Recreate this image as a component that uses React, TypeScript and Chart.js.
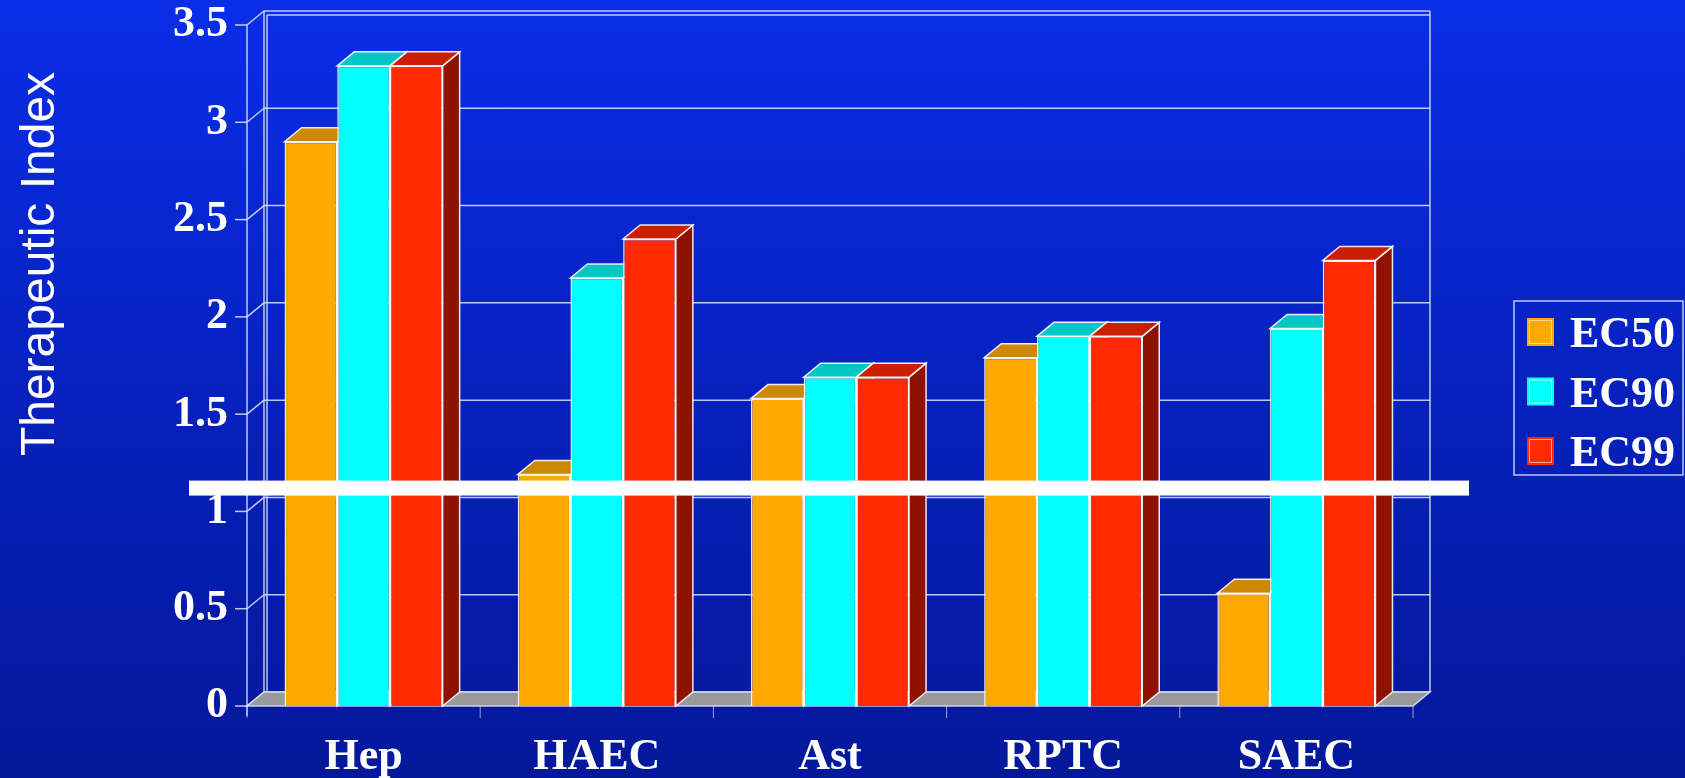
import React, { useEffect, useRef } from "react";
import { Chart, registerables } from "chart.js";

Chart.register(...registerables);

// Cell lines on the category axis
const cellLines = ["Hep", "HAEC", "Ast", "RPTC", "SAEC"];
// Series names
const seriesNames = ["EC50", "EC90", "EC99"];
// Therapeutic index per cell line
const ec50Values = [2.9, 1.19, 1.58, 1.79, 0.58];
const ec90Values = [3.29, 2.2, 1.69, 1.9, 1.94];
const ec99Values = [3.29, 2.4, 1.69, 1.9, 2.29];
// Value axis ticks
const yTickValues = [0, 0.5, 1, 1.5, 2, 2.5, 3, 3.5];
// Threshold band drawn across the chart
const thresholdValue = 1.12;

const frontColors = ["#FFA800", "#00FFFF", "#FF2A00"];
const topColors = ["#CC8800", "#00C6C6", "#CC1E00"];
const sideColors = ["#996600", "#009494", "#8E1200"];

const SERIF = '"Times New Roman", "Liberation Serif", serif';
const SANS = 'Arial, "Liberation Sans", sans-serif';
const DX = 17;
const DY = 14;
const LINE = "rgba(225,230,255,0.85)";

function line(ctx: CanvasRenderingContext2D, x1: number, y1: number, x2: number, y2: number) {
  ctx.beginPath();
  ctx.moveTo(x1, y1);
  ctx.lineTo(x2, y2);
  ctx.stroke();
}

function quad(ctx: CanvasRenderingContext2D, pts: number[][], fill: string) {
  ctx.beginPath();
  ctx.moveTo(pts[0][0], pts[0][1]);
  for (let i = 1; i < pts.length; i++) ctx.lineTo(pts[i][0], pts[i][1]);
  ctx.closePath();
  ctx.fillStyle = fill;
  ctx.fill();
  ctx.stroke();
}

const depthPlugin = {
  id: "depth3d",
  beforeDatasetsDraw(chart: any) {
    const { ctx, chartArea } = chart;
    const { left, right } = chartArea;
    const y = chart.scales.y;
    const y0 = y.getPixelForValue(0);
    const yTop = y.getPixelForValue(yTickValues[yTickValues.length - 1]);
    ctx.save();
    ctx.lineWidth = 1.5;
    ctx.strokeStyle = LINE;

    // back wall and left wall grid
    yTickValues.forEach((v) => {
      const py = y.getPixelForValue(v);
      line(ctx, left + DX, py - DY, right + DX, py - DY);
      line(ctx, left, py, left + DX, py - DY);
      line(ctx, left - 12, py, left, py);
    });
    line(ctx, left + DX + 3, yTop - DY + 4, right + DX, yTop - DY + 4);
    line(ctx, left + DX, yTop - DY, left + DX, y0 - DY);
    line(ctx, left + DX + 3, yTop - DY + 4, left + DX + 3, y0 - DY);
    line(ctx, right + DX, yTop - DY, right + DX, y0 - DY);

    // floor
    quad(ctx, [[left, y0], [right, y0], [right + DX, y0 - DY], [left + DX, y0 - DY]], "#9A9A9A");
    line(ctx, left, yTop, left, y0 + 10);

    // category boundary ticks
    ctx.strokeStyle = "rgba(190,195,220,0.8)";
    ctx.lineWidth = 1;
    const n = cellLines.length;
    for (let i = 0; i <= n; i++) {
      const bx = left + ((right - left) * i) / n;
      line(ctx, bx, y0, bx, y0 + 12);
    }

    // top and side faces of the bars
    ctx.strokeStyle = "rgba(255,255,255,0.9)";
    ctx.lineWidth = 1.5;
    for (let c = 0; c < n; c++) {
      chart.data.datasets.forEach((_: any, d: number) => {
        const bar = chart.getDatasetMeta(d).data[c];
        const { x, y: top, width, base } = bar.getProps(["x", "y", "width", "base"], true);
        const xl = x - width / 2;
        const xr = x + width / 2;
        quad(ctx, [[xr, top], [xr + DX, top - DY], [xr + DX, base - DY], [xr, base]], sideColors[d]);
        quad(ctx, [[xl, top], [xr, top], [xr + DX, top - DY], [xl + DX, top - DY]], topColors[d]);
      });
    }
    ctx.restore();
  },
  afterDatasetsDraw(chart: any) {
    const { ctx, chartArea } = chart;
    const yT = chart.scales.y.getPixelForValue(thresholdValue);
    ctx.save();
    ctx.fillStyle = "#FFFFFF";
    ctx.fillRect(chartArea.left - 58, yT - 7.5, chartArea.right - chartArea.left + 114, 15);
    ctx.restore();
  },
  afterDraw(chart: any) {
    const { ctx } = chart;
    ctx.save();
    // axis title
    ctx.translate(54, 264);
    ctx.rotate(-Math.PI / 2);
    ctx.fillStyle = "#FFFFFF";
    ctx.font = `48px ${SANS}`;
    ctx.textAlign = "center";
    ctx.textBaseline = "alphabetic";
    ctx.fillText("Therapeutic Index", 0, 0);
    ctx.restore();

    // legend
    ctx.save();
    ctx.strokeStyle = LINE;
    ctx.lineWidth = 1.5;
    ctx.strokeRect(1514, 301, 169, 174);
    ctx.font = `bold 44px ${SERIF}`;
    ctx.textAlign = "left";
    ctx.textBaseline = "alphabetic";
    chart.data.datasets.forEach((ds: any, i: number) => {
      const base = 347 + i * 59.5;
      ctx.fillStyle = frontColors[i];
      ctx.fillRect(1527, base - 29, 27, 28);
      ctx.strokeStyle = "rgba(255,255,255,0.6)";
      ctx.lineWidth = 1;
      ctx.strokeRect(1529.5, base - 26.5, 22, 23);
      ctx.fillStyle = "#FFFFFF";
      ctx.fillText(ds.label, 1570, base);
    });
    ctx.restore();
  },
};

export default function App() {
  const canvasRef = useRef<HTMLCanvasElement | null>(null);

  useEffect(() => {
    if (!canvasRef.current) return;
    const seriesValues = [ec50Values, ec90Values, ec99Values];
    const chart = new Chart(canvasRef.current, {
      type: "bar",
      data: {
        labels: cellLines,
        datasets: seriesNames.map((name, i) => ({
          label: name,
          data: seriesValues[i],
          backgroundColor: frontColors[i],
          borderColor: "rgba(255,255,255,0.9)",
          borderWidth: 1.5,
          barPercentage: 1,
          categoryPercentage: 0.678,
        })),
      },
      options: {
        animation: false,
        responsive: false,
        maintainAspectRatio: false,
        layout: { padding: { left: 0, right: 272, top: 25, bottom: 0 } },
        plugins: { legend: { display: false }, tooltip: { enabled: false } },
        scales: {
          x: {
            grid: { display: false },
            border: { display: false },
            ticks: {
              color: "#FFFFFF",
              padding: 22,
              font: { family: SERIF, size: 44, weight: "bold", lineHeight: 1 },
            },
            afterFit: (s: any) => {
              s.height = 72;
            },
          },
          y: {
            min: 0,
            max: 3.5,
            grid: { display: false },
            border: { display: false },
            afterBuildTicks: (s: any) => {
              s.ticks = yTickValues.map((v) => ({ value: v }));
            },
            ticks: {
              color: "#FFFFFF",
              padding: 11,
              font: { family: SERIF, size: 44, weight: "bold", lineHeight: 0.2 },
              callback: (value: any) => String(Number(value)),
            },
            afterFit: (s: any) => {
              s.width = 247;
            },
          },
        },
      },
      plugins: [depthPlugin],
    } as any);
    return () => chart.destroy();
  }, []);

  return (
    <div
      style={{
        position: "fixed",
        left: 0,
        top: 0,
        width: 1685,
        height: 778,
        background: "linear-gradient(to bottom, #0A2EE8 0%, #0621BE 50%, #04189A 100%)",
        overflow: "hidden",
      }}
    >
      <canvas ref={canvasRef} width={1685} height={778} style={{ display: "block" }} />
    </div>
  );
}
